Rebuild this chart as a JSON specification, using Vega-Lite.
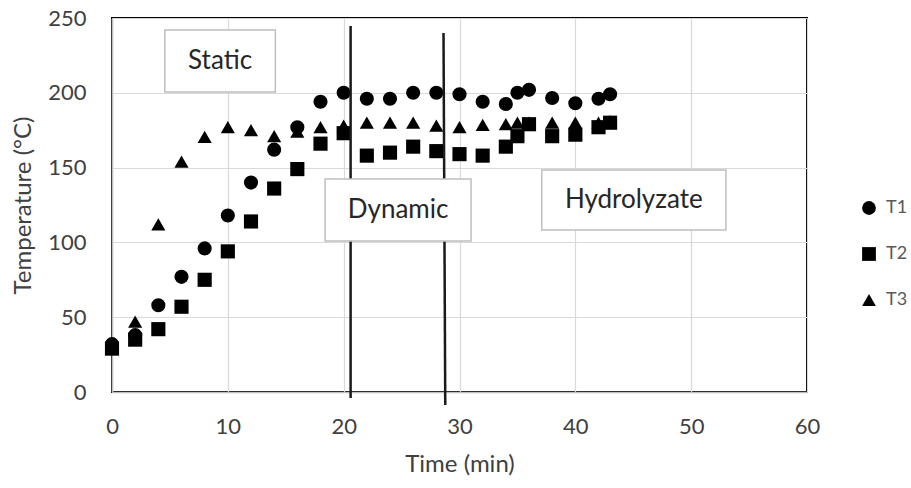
{
  "$schema": "https://vega.github.io/schema/vega-lite/v6.json",
  "width": 695,
  "height": 374,
  "autosize": {"type": "none"},
  "padding": {"left": 112, "top": 18, "right": 104, "bottom": 96},
  "config": {
    "font": "Lato",
    "view": {"stroke": "#000000", "strokeWidth": 2},
    "axis": {
      "grid": true,
      "gridColor": "#d9d9d9",
      "gridWidth": 1.2,
      "domainColor": "#bfbfbf",
      "domainWidth": 1.5,
      "ticks": false,
      "tickSize": 0,
      "labelFlush": false,
      "labelFont": "Lato",
      "labelFontSize": 22,
      "labelColor": "#404040",
      "titleFont": "Lato",
      "titleFontSize": 24,
      "titleFontWeight": "normal",
      "titleColor": "#404040"
    },
    "legend": {
      "orient": "none",
      "legendX": 748,
      "legendY": 181,
      "padding": 0,
      "title": null,
      "labelFont": "Lato",
      "labelFontSize": 18,
      "labelColor": "#595959",
      "labelOffset": 8,
      "symbolSize": 190,
      "rowPadding": 28,
      "symbolStrokeWidth": 0,
      "symbolFillColor": "#000000"
    }
  },
  "datasets": {
    "points": [
      {"time": 0, "temp": 32, "series": "T1"},
      {"time": 2, "temp": 38, "series": "T1"},
      {"time": 4, "temp": 58, "series": "T1"},
      {"time": 6, "temp": 77, "series": "T1"},
      {"time": 8, "temp": 96, "series": "T1"},
      {"time": 10, "temp": 118, "series": "T1"},
      {"time": 12, "temp": 140, "series": "T1"},
      {"time": 14, "temp": 162, "series": "T1"},
      {"time": 16, "temp": 177, "series": "T1"},
      {"time": 18, "temp": 194, "series": "T1"},
      {"time": 20, "temp": 200, "series": "T1"},
      {"time": 22, "temp": 196, "series": "T1"},
      {"time": 24, "temp": 196, "series": "T1"},
      {"time": 26, "temp": 200, "series": "T1"},
      {"time": 28, "temp": 200, "series": "T1"},
      {"time": 30, "temp": 199, "series": "T1"},
      {"time": 32, "temp": 194, "series": "T1"},
      {"time": 34, "temp": 192.5, "series": "T1"},
      {"time": 35, "temp": 200, "series": "T1"},
      {"time": 36, "temp": 202, "series": "T1"},
      {"time": 38, "temp": 196.5, "series": "T1"},
      {"time": 40, "temp": 193, "series": "T1"},
      {"time": 42, "temp": 196, "series": "T1"},
      {"time": 43, "temp": 199, "series": "T1"},
      {"time": 0, "temp": 29, "series": "T2"},
      {"time": 2, "temp": 35, "series": "T2"},
      {"time": 4, "temp": 42, "series": "T2"},
      {"time": 6, "temp": 57, "series": "T2"},
      {"time": 8, "temp": 75, "series": "T2"},
      {"time": 10, "temp": 94, "series": "T2"},
      {"time": 12, "temp": 114, "series": "T2"},
      {"time": 14, "temp": 136, "series": "T2"},
      {"time": 16, "temp": 149, "series": "T2"},
      {"time": 18, "temp": 166, "series": "T2"},
      {"time": 20, "temp": 173, "series": "T2"},
      {"time": 22, "temp": 158, "series": "T2"},
      {"time": 24, "temp": 160, "series": "T2"},
      {"time": 26, "temp": 164, "series": "T2"},
      {"time": 28, "temp": 161, "series": "T2"},
      {"time": 30, "temp": 159, "series": "T2"},
      {"time": 32, "temp": 158, "series": "T2"},
      {"time": 34, "temp": 164, "series": "T2"},
      {"time": 35, "temp": 171, "series": "T2"},
      {"time": 36, "temp": 179, "series": "T2"},
      {"time": 38, "temp": 171, "series": "T2"},
      {"time": 40, "temp": 172, "series": "T2"},
      {"time": 42, "temp": 177, "series": "T2"},
      {"time": 43, "temp": 180, "series": "T2"},
      {"time": 0, "temp": 31, "series": "T3"},
      {"time": 2, "temp": 47, "series": "T3"},
      {"time": 4, "temp": 112, "series": "T3"},
      {"time": 6, "temp": 154, "series": "T3"},
      {"time": 8, "temp": 170.5, "series": "T3"},
      {"time": 10, "temp": 177, "series": "T3"},
      {"time": 12, "temp": 175, "series": "T3"},
      {"time": 14, "temp": 171, "series": "T3"},
      {"time": 16, "temp": 174, "series": "T3"},
      {"time": 18, "temp": 177, "series": "T3"},
      {"time": 20, "temp": 178, "series": "T3"},
      {"time": 22, "temp": 180, "series": "T3"},
      {"time": 24, "temp": 180, "series": "T3"},
      {"time": 26, "temp": 180, "series": "T3"},
      {"time": 28, "temp": 178, "series": "T3"},
      {"time": 30, "temp": 177, "series": "T3"},
      {"time": 32, "temp": 178.5, "series": "T3"},
      {"time": 34, "temp": 179, "series": "T3"},
      {"time": 35, "temp": 180, "series": "T3"},
      {"time": 36, "temp": 180, "series": "T3"},
      {"time": 38, "temp": 180, "series": "T3"},
      {"time": 40, "temp": 180, "series": "T3"},
      {"time": 42, "temp": 180, "series": "T3"},
      {"time": 43, "temp": 181, "series": "T3"}
    ],
    "dividers": [
      {"x": 20.6, "x2": 20.6, "y": 244.7, "y2": -4},
      {"x": 28.62, "x2": 28.77, "y": 240, "y2": -8.7}
    ],
    "boxes": [
      {"label": "Static", "x": 4.56, "x2": 14.1, "y": 242, "y2": 200.5, "cx": 9.33, "cy": 221.2},
      {"label": "Dynamic", "x": 18.4, "x2": 31.0, "y": 142.4, "y2": 101, "cx": 24.7, "cy": 121.7},
      {"label": "Hydrolyzate", "x": 37.1, "x2": 53.0, "y": 148.4, "y2": 108.3, "cx": 45.05, "cy": 128.3}
    ]
  },
  "layer": [
    {
      "data": {"name": "points"},
      "mark": {"type": "point", "filled": true, "opacity": 1, "size": 200, "color": "#000000"},
      "encoding": {
        "x": {"field": "time", "type": "quantitative", "scale": {"domain": [0, 60], "nice": false},
              "axis": {"values": [0, 10, 20, 30, 40, 50, 60], "title": "Time (min)", "labelPadding": 24, "titlePadding": 15}},
        "y": {"field": "temp", "type": "quantitative", "scale": {"domain": [0, 250], "nice": false},
              "axis": {"values": [0, 50, 100, 150, 200, 250], "title": "Temperature (°C)", "labelPadding": 26, "titlePadding": 12}},
        "shape": {"field": "series", "type": "nominal",
                  "scale": {"domain": ["T1", "T2", "T3"], "range": ["circle", "square", "triangle-up"]}}
      }
    },
    {
      "data": {"name": "dividers"},
      "mark": {"type": "rule", "color": "#1a1a1a", "strokeWidth": 2.5},
      "encoding": {
        "x": {"field": "x", "type": "quantitative"},
        "x2": {"field": "x2"},
        "y": {"field": "y", "type": "quantitative"},
        "y2": {"field": "y2"}
      }
    },
    {
      "data": {"name": "boxes"},
      "mark": {"type": "rect", "fill": "#ffffff", "stroke": "#bfbfbf", "strokeWidth": 1.5},
      "encoding": {
        "x": {"field": "x", "type": "quantitative"},
        "x2": {"field": "x2"},
        "y": {"field": "y", "type": "quantitative"},
        "y2": {"field": "y2"}
      }
    },
    {
      "data": {"name": "boxes"},
      "mark": {"type": "text", "font": "Lato", "fontSize": 26, "color": "#262626", "align": "center", "baseline": "middle"},
      "encoding": {
        "x": {"field": "cx", "type": "quantitative"},
        "y": {"field": "cy", "type": "quantitative"},
        "text": {"field": "label"}
      }
    }
  ]
}
